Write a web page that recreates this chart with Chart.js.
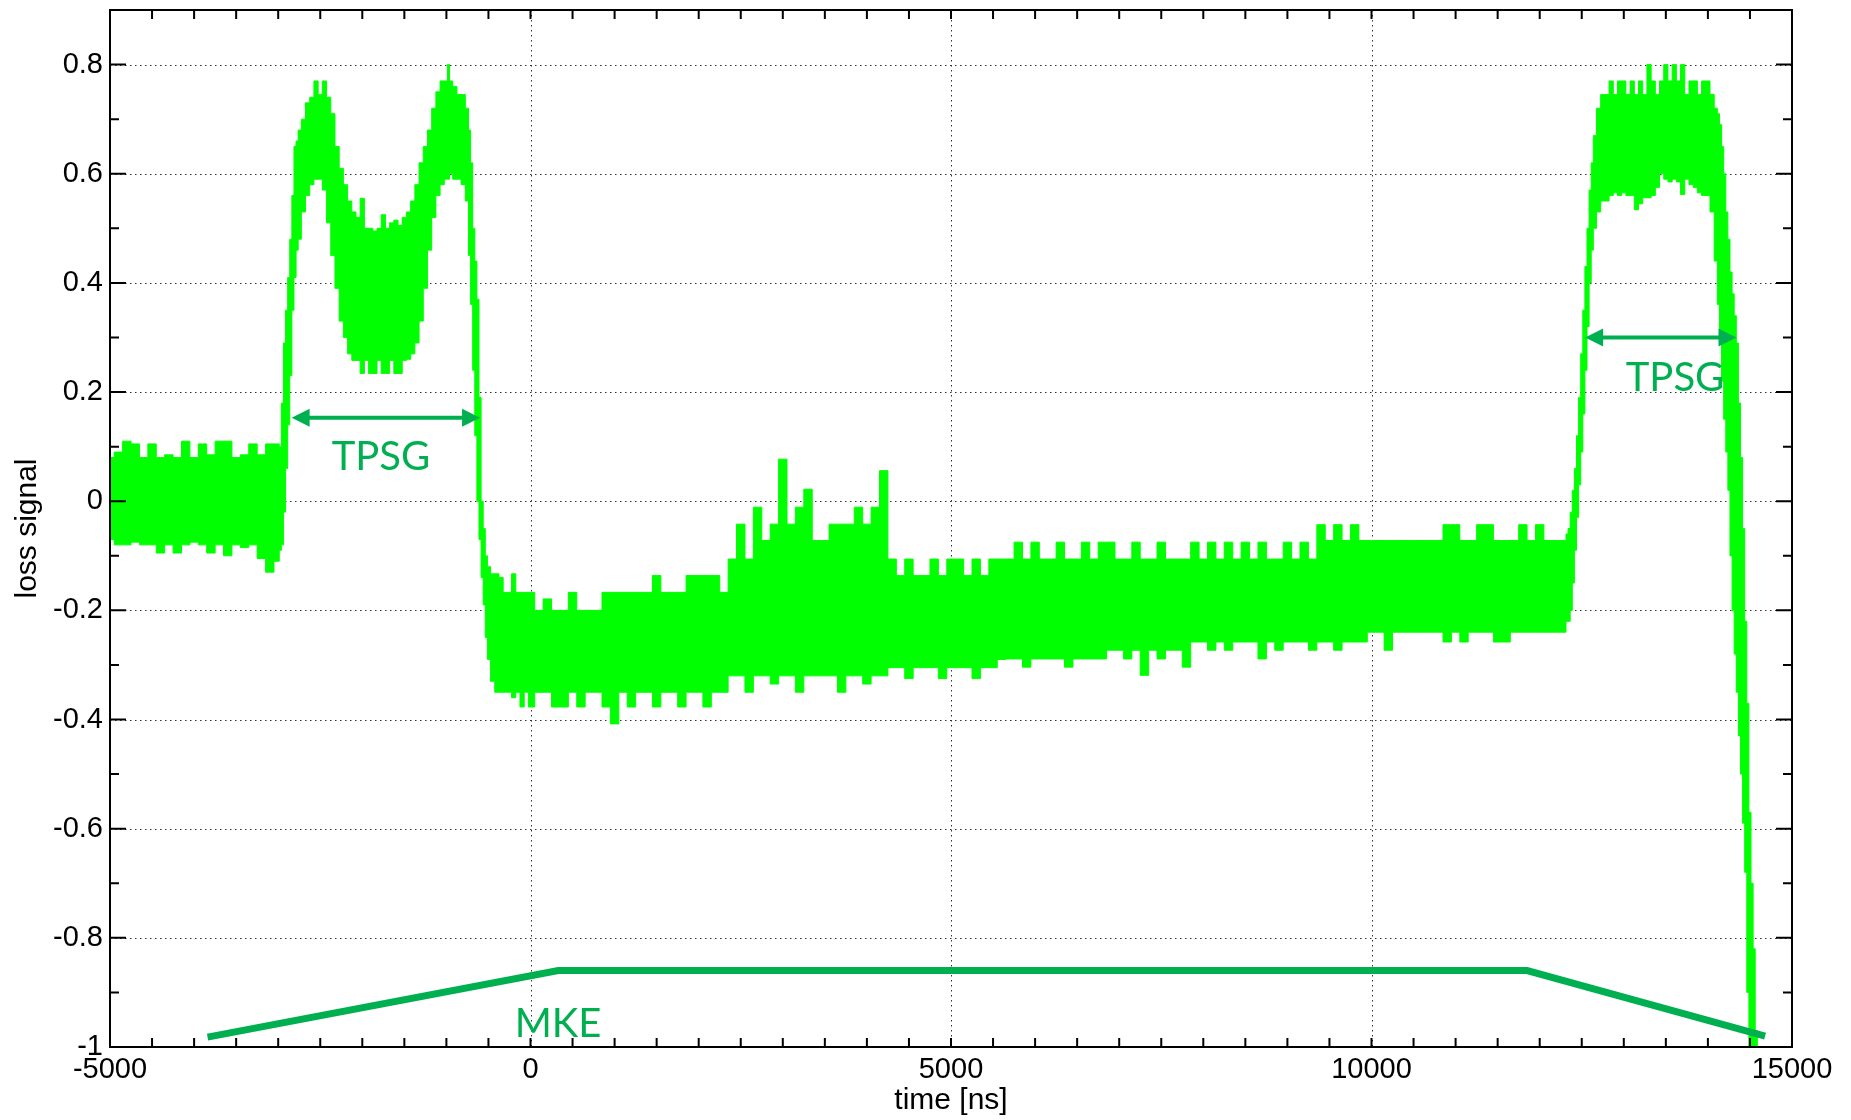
<!DOCTYPE html>
<html>
<head>
<meta charset="utf-8">
<title>loss signal vs time</title>
<script src="https://cdn.jsdelivr.net/npm/chart.js@4.4.1/dist/chart.umd.min.js"></script>
<style>
  html, body { margin: 0; padding: 0; background: #fff; }
</style>
</head>
<body>
<canvas id="lossChart" width="1851" height="1120"></canvas>
<script>
const sigTime = [
  -5000, -4900, -4800, -4700, -4600, -4500, -4400, -4300, -4200, -4100, -4000, -3900, -3800, -3700, -3600, -3500, -3400, -3300, -3200, -3100, -3000,
  -2975, -2950, -2925, -2900, -2875, -2850, -2825, -2800, -2775, -2750, -2700, -2650, -2600, -2550, -2500,
  -2450, -2400, -2350, -2300, -2250, -2200, -2150, -2100, -2050, -2000, -1950, -1900, -1850, -1800, -1750, -1700, -1650, -1600, -1550, -1500,
  -1450, -1400, -1350, -1300, -1250, -1200, -1150, -1100, -1050, -1000, -975, -950, -900, -850, -800,
  -750, -725, -700, -675, -650, -625, -600, -575, -550, -525, -500, -450, -400, -350, -300, -250, -200, -150, -100, -50,
  0, 100, 200, 300, 400, 500, 600, 700, 800, 900, 1000, 1100, 1200, 1300, 1400, 1500, 1600, 1700, 1800, 1900,
  2000, 2100, 2200, 2300, 2400, 2500, 2600, 2700, 2800, 2900, 3000, 3100, 3200, 3300, 3400, 3500, 3600, 3700, 3800, 3900,
  4000, 4100, 4200, 4300, 4400, 4500, 4600, 4700, 4800, 4900, 5000, 5100, 5200, 5300, 5400, 5500, 5600,
  5700, 5800, 5900, 6000, 6100, 6200, 6300, 6400, 6500, 6600, 6700, 6800, 6900, 7000, 7100, 7200, 7300, 7400, 7500, 7600,
  7700, 7800, 7900, 8000, 8100, 8200, 8300, 8400, 8500, 8600, 8700, 8800, 8900, 9000, 9100, 9200, 9300, 9400, 9500, 9600,
  9700, 9800, 9900, 10000, 10100, 10200, 10300, 10400, 10500, 10600, 10700, 10800, 10900, 11000, 11100, 11200, 11300, 11400, 11500, 11600,
  11700, 11800, 11900, 12000, 12100, 12200, 12300,
  12325, 12350, 12375, 12400, 12425, 12450, 12475, 12500, 12525, 12550, 12575, 12600, 12625, 12650, 12700, 12750,
  12800, 12850, 12900, 12950, 13000, 13050, 13100, 13150, 13200, 13250, 13300, 13350, 13400, 13450, 13500, 13550, 13600, 13650, 13700, 13750,
  13800, 13850, 13900, 13950,
  14000, 14050, 14100, 14125, 14150, 14175, 14200, 14225, 14250, 14275, 14300, 14325, 14350, 14375, 14400, 14425, 14450, 14475, 14500, 14525,
  14550, 14575, 14600
];
const sigHigh = [
  0.08, 0.09, 0.11, 0.105, 0.08, 0.105, 0.08, 0.085, 0.08, 0.11, 0.08, 0.105, 0.085, 0.11, 0.11, 0.08, 0.085, 0.105, 0.085, 0.105, 0.105,
  0.10, 0.18, 0.29, 0.35, 0.41, 0.48, 0.56, 0.65, 0.66, 0.68, 0.70, 0.73, 0.74, 0.77, 0.745,
  0.77, 0.74, 0.71, 0.65, 0.61, 0.58, 0.55, 0.53, 0.52, 0.555, 0.50, 0.50, 0.495, 0.50, 0.525, 0.50, 0.51, 0.515, 0.505, 0.52,
  0.53, 0.55, 0.58, 0.62, 0.65, 0.68, 0.72, 0.75, 0.77, 0.77, 0.80, 0.77, 0.76, 0.745, 0.745,
  0.72, 0.68, 0.62, 0.50, 0.44, 0.37, 0.19, 0.0, -0.05, -0.10, -0.12, -0.133, -0.133, -0.14, -0.167, -0.167, -0.133, -0.167, -0.167, -0.167,
  -0.167, -0.20, -0.179, -0.20, -0.20, -0.167, -0.20, -0.20, -0.20, -0.167, -0.167, -0.167, -0.167, -0.167, -0.167, -0.136, -0.167, -0.167, -0.167, -0.136,
  -0.136, -0.136, -0.136, -0.167, -0.106, -0.042, -0.106, -0.011, -0.072, -0.042, 0.077, -0.042, -0.011, 0.022, -0.072, -0.072, -0.042, -0.042, -0.042, -0.011,
  -0.042, -0.011, 0.056, -0.106, -0.136, -0.106, -0.136, -0.136, -0.106, -0.136, -0.106, -0.106, -0.136, -0.106, -0.136, -0.106, -0.106,
  -0.106, -0.075, -0.106, -0.075, -0.106, -0.106, -0.075, -0.106, -0.106, -0.075, -0.106, -0.075, -0.075, -0.106, -0.106, -0.075, -0.106, -0.106, -0.075, -0.106,
  -0.106, -0.106, -0.075, -0.106, -0.075, -0.106, -0.075, -0.106, -0.075, -0.106, -0.075, -0.106, -0.106, -0.075, -0.106, -0.075, -0.106, -0.043, -0.072, -0.043,
  -0.072, -0.043, -0.072, -0.072, -0.072, -0.072, -0.072, -0.072, -0.072, -0.072, -0.072, -0.072, -0.043, -0.043, -0.072, -0.072, -0.043, -0.043, -0.072, -0.072,
  -0.072, -0.043, -0.072, -0.043, -0.072, -0.072, -0.072,
  -0.06, -0.05, -0.02, 0.02, 0.06, 0.12, 0.19, 0.27, 0.35, 0.43, 0.50, 0.57, 0.62, 0.67, 0.72, 0.745,
  0.745, 0.77, 0.745, 0.77, 0.77, 0.745, 0.77, 0.745, 0.77, 0.745, 0.80, 0.77, 0.745, 0.77, 0.80, 0.77, 0.80, 0.77, 0.80, 0.745,
  0.77, 0.77, 0.745, 0.77,
  0.77, 0.745, 0.72, 0.71, 0.69, 0.65, 0.60, 0.53, 0.48, 0.42, 0.38, 0.34, 0.29, 0.18, 0.08, -0.05, -0.22, -0.37, -0.57, -0.70,
  -0.82, -0.97, -1.0
];
const sigLow = [
  -0.07, -0.08, -0.08, -0.075, -0.08, -0.08, -0.095, -0.08, -0.095, -0.08, -0.075, -0.08, -0.095, -0.08, -0.1, -0.08, -0.085, -0.08, -0.105, -0.13, -0.11,
  -0.09, -0.08, -0.02, 0.06, 0.14, 0.23, 0.35, 0.41, 0.46, 0.48, 0.53, 0.56, 0.58, 0.59, 0.59,
  0.57, 0.51, 0.45, 0.39, 0.33, 0.30, 0.27, 0.258, 0.258, 0.234, 0.258, 0.234, 0.234, 0.258, 0.234, 0.234, 0.258, 0.234, 0.234, 0.258,
  0.26, 0.27, 0.29, 0.33, 0.39, 0.46, 0.52, 0.56, 0.58, 0.59, 0.59, 0.60, 0.59, 0.59, 0.58,
  0.55, 0.45, 0.36, 0.24, 0.12, 0.0, -0.07, -0.14, -0.19, -0.25, -0.29, -0.33, -0.35, -0.35, -0.35, -0.35, -0.36, -0.35, -0.377, -0.35,
  -0.377, -0.35, -0.35, -0.377, -0.377, -0.35, -0.377, -0.35, -0.35, -0.377, -0.408, -0.35, -0.377, -0.35, -0.35, -0.377, -0.35, -0.35, -0.377, -0.35,
  -0.35, -0.377, -0.35, -0.35, -0.32, -0.32, -0.35, -0.32, -0.32, -0.335, -0.32, -0.32, -0.35, -0.32, -0.32, -0.32, -0.32, -0.35, -0.32, -0.32,
  -0.335, -0.32, -0.32, -0.305, -0.305, -0.325, -0.305, -0.305, -0.305, -0.325, -0.305, -0.305, -0.305, -0.325, -0.305, -0.305, -0.29,
  -0.289, -0.289, -0.304, -0.289, -0.289, -0.289, -0.289, -0.304, -0.289, -0.289, -0.289, -0.289, -0.273, -0.273, -0.289, -0.273, -0.319, -0.273, -0.289, -0.273,
  -0.273, -0.304, -0.258, -0.258, -0.273, -0.258, -0.273, -0.258, -0.258, -0.258, -0.289, -0.258, -0.273, -0.258, -0.258, -0.258, -0.273, -0.258, -0.258, -0.273,
  -0.258, -0.258, -0.258, -0.24, -0.24, -0.273, -0.24, -0.24, -0.24, -0.24, -0.24, -0.24, -0.258, -0.24, -0.258, -0.24, -0.24, -0.24, -0.258, -0.258,
  -0.24, -0.24, -0.24, -0.24, -0.24, -0.24, -0.24,
  -0.22, -0.22, -0.20, -0.15, -0.09, -0.03, 0.03, 0.09, 0.16, 0.24, 0.32, 0.40, 0.46, 0.50, 0.53, 0.55,
  0.55, 0.56, 0.565, 0.56, 0.565, 0.56, 0.56, 0.534, 0.545, 0.556, 0.556, 0.56, 0.575, 0.60, 0.59, 0.585, 0.59, 0.585, 0.562, 0.59,
  0.58, 0.575, 0.565, 0.56,
  0.56, 0.53, 0.44, 0.36, 0.29, 0.22, 0.15, 0.09, 0.02, -0.10, -0.20, -0.28, -0.35, -0.43, -0.50, -0.59, -0.68, -0.90, -1.0, -1.0,
  -1.0, -1.0, -1.0
];

// MKE kicker pulse drawn below the trace
const mkeTime = [-3840, 330, 11850, 14680];
const mkeLevel = [-0.982, -0.86, -0.86, -0.98];

// TPSG double arrows
const tpsgFrom = [-2840, 12540];
const tpsgTo = [-600, 14340];
const tpsgLevel = [0.153, 0.30];

// annotation labels (baseline position)
const labelText = ['TPSG', 'TPSG', 'MKE'];
const labelTime = [-1778, 13609, 327];
const labelLevel = [0.058, 0.202, -0.982];

// axes
const xTicks = [-5000, 0, 5000, 10000, 15000];
const yTicks = [-1, -0.8, -0.6, -0.4, -0.2, 0, 0.2, 0.4, 0.6, 0.8];
const xMinorStep = 500;
const yMinorStep = 0.1;

const signalGreen = '#00ff00';
const noteGreen = '#00b050';
const axisFont = "'Liberation Sans', Arial, sans-serif";

//Grid, framed box with inner ticks, and the drawn-on annotations
const frame = {
    id: 'frame',
    beforeDatasetsDraw(chart) {
        const {ctx, chartArea: a, scales: {x, y}} = chart;
        ctx.save();
        ctx.strokeStyle = '#333';
        ctx.lineWidth = 1;
        ctx.setLineDash([1.5, 3.5]);
        ctx.beginPath();
        xTicks.forEach(v => {
            const px = Math.round(x.getPixelForValue(v)) + 0.5;
            ctx.moveTo(px, a.top); ctx.lineTo(px, a.bottom);
        });
        yTicks.forEach(v => {
            const py = Math.round(y.getPixelForValue(v)) + 0.5;
            ctx.moveTo(a.left, py); ctx.lineTo(a.right, py);
        });
        ctx.stroke();
        ctx.restore();
    },
    afterDatasetsDraw(chart) {
        const {ctx, chartArea: a, scales: {x, y}} = chart;
        ctx.save();
        ctx.strokeStyle = '#000';
        ctx.lineWidth = 2;
        ctx.strokeRect(a.left, a.top, a.right - a.left, a.bottom - a.top);

        //inner ticks on all four sides
        ctx.beginPath();
        const nx = Math.round((x.max - x.min) / xMinorStep);
        for (let k = 0; k <= nx; k++) {
            const px = x.getPixelForValue(x.min + k * xMinorStep);
            ctx.moveTo(px, a.bottom); ctx.lineTo(px, a.bottom - 9);
            ctx.moveTo(px, a.top); ctx.lineTo(px, a.top + 9);
        }
        const ny = Math.round((y.max - y.min) / yMinorStep);
        for (let k = 0; k <= ny; k++) {
            const py = y.getPixelForValue(y.min + k * yMinorStep);
            const len = k % 2 === 0 ? 16 : 9;
            ctx.moveTo(a.left, py); ctx.lineTo(a.left + len, py);
            ctx.moveTo(a.right, py); ctx.lineTo(a.right - len, py);
        }
        ctx.stroke();

        //TPSG arrows
        ctx.fillStyle = noteGreen;
        ctx.strokeStyle = noteGreen;
        ctx.lineWidth = 4;
        const head = 18, half = 9;
        tpsgFrom.forEach((t, i) => {
            const x1 = x.getPixelForValue(t);
            const x2 = x.getPixelForValue(tpsgTo[i]);
            const py = y.getPixelForValue(tpsgLevel[i]);
            ctx.beginPath();
            ctx.moveTo(x1 + head - 2, py); ctx.lineTo(x2 - head + 2, py);
            ctx.stroke();
            ctx.beginPath();
            ctx.moveTo(x1, py); ctx.lineTo(x1 + head, py - half); ctx.lineTo(x1 + head, py + half);
            ctx.closePath(); ctx.fill();
            ctx.beginPath();
            ctx.moveTo(x2, py); ctx.lineTo(x2 - head, py - half); ctx.lineTo(x2 - head, py + half);
            ctx.closePath(); ctx.fill();
        });

        //labels
        ctx.font = "40px Lato, 'Open Sans', sans-serif";
        ctx.textAlign = 'center';
        ctx.textBaseline = 'alphabetic';
        labelText.forEach((txt, i) => {
            ctx.fillText(txt, x.getPixelForValue(labelTime[i]), y.getPixelForValue(labelLevel[i]));
        });
        ctx.restore();
    }
};

const ctx = document.getElementById('lossChart').getContext('2d');
const lossChart = new Chart(ctx, {
    type: 'line',
    data: {
        datasets: [
            {
                label: 'MKE',
                data: mkeTime.map((t, i) => ({x: t, y: mkeLevel[i]})),
                borderColor: noteGreen,
                borderWidth: 7,
                borderJoinStyle: 'miter',
                pointRadius: 0,
                fill: false,
                order: 0
            },
            {
                label: 'loss signal (upper)',
                data: sigTime.map((t, i) => ({x: t, y: sigHigh[i]})),
                borderColor: signalGreen,
                backgroundColor: signalGreen,
                borderWidth: 1,
                stepped: 'middle',
                pointRadius: 0,
                fill: '+1',
                order: 1
            },
            {
                label: 'loss signal (lower)',
                data: sigTime.map((t, i) => ({x: t, y: sigLow[i]})),
                borderColor: signalGreen,
                borderWidth: 1,
                stepped: 'middle',
                pointRadius: 0,
                fill: false,
                order: 2
            }
        ]
    },
    options: {
        responsive: false,
        animation: false,
        layout: {padding: {top: 10, right: 59, left: 0, bottom: 0}},
        plugins: {
            legend: {display: false},
            tooltip: {enabled: false}
        },
        scales: {
            x: {
                type: 'linear',
                min: -5000,
                max: 15000,
                grid: {display: false, drawTicks: false},
                border: {display: false},
                afterBuildTicks: s => { s.ticks = xTicks.map(v => ({value: v})); },
                afterFit: s => { s.height = 73; s.paddingLeft = 0; s.paddingRight = 0; },
                ticks: {
                    autoSkip: false, maxRotation: 0, padding: 8, color: '#000',
                    font: {family: axisFont, size: 29, lineHeight: 1},
                    callback: v => String(v)
                },
                title: {
                    display: true, text: 'time [ns]', color: '#000',
                    font: {family: axisFont, size: 30, lineHeight: 1},
                    padding: {top: 0, bottom: 4}
                }
            },
            y: {
                type: 'linear',
                min: -1,
                max: 0.9,
                grid: {display: false, drawTicks: false},
                border: {display: false},
                afterBuildTicks: s => { s.ticks = yTicks.map(v => ({value: v})); },
                afterFit: s => { s.width = 110; s.paddingTop = 0; s.paddingBottom = 0; },
                ticks: {
                    autoSkip: false, padding: 7, color: '#000',
                    font: {family: axisFont, size: 29, lineHeight: 1},
                    callback: v => String(v)
                },
                title: {
                    display: true, text: 'loss signal', color: '#000',
                    font: {family: axisFont, size: 30, lineHeight: 1},
                    padding: {top: 13, bottom: 0}
                }
            }
        }
    },
    plugins: [frame]
});
</script>
</body>
</html>
